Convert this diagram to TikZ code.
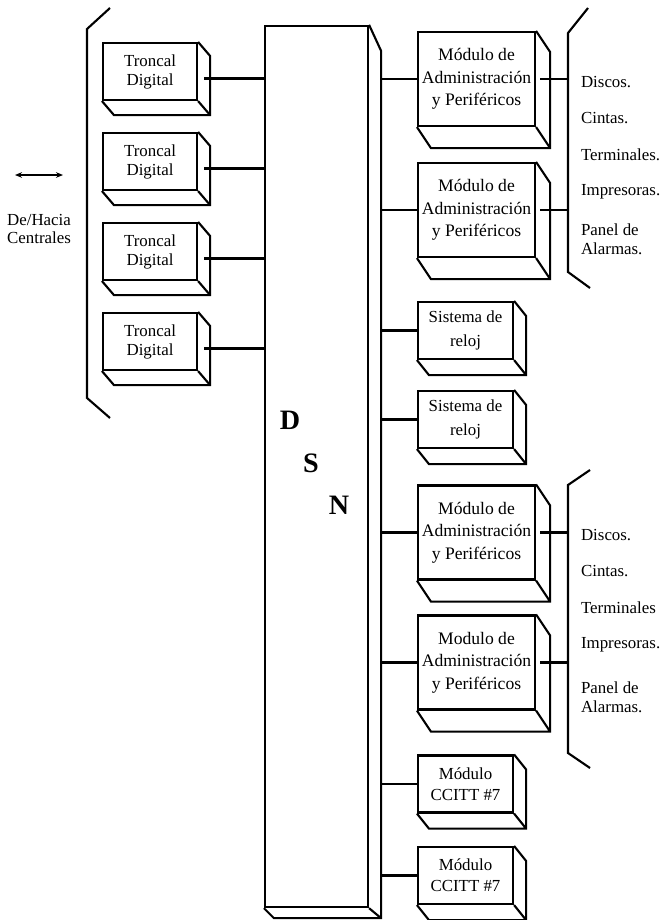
\documentclass[tikz,border=0pt]{standalone}
\usepackage{fontspec}
\setmainfont{Liberation Serif}
\usetikzlibrary{arrows.meta,positioning,calc}

\begin{document}
\begin{tikzpicture}[x=0.025cm,y=-0.025cm,line width=1.5pt,
font=\fontsize{12}{15}\selectfont]

\tikzstyle{caja}=[rectangle, draw, line width=1.5pt, inner sep=0pt, align=center,
minimum width=2.375cm, minimum height=1.425cm]
\tikzstyle{troncal}=[caja, minimum width=2.35cm, font=\fontsize{12}{13.5}\selectfont]
\tikzstyle{modulo}=[caja, minimum width=2.925cm, minimum height=2.35cm,
font=\fontsize{12.5}{16}\selectfont]
\tikzstyle{lista}=[anchor=west, inner sep=0pt, align=left,
font=\fontsize{12}{13.5}\selectfont]
\tikzstyle{letra}=[inner sep=0pt, font=\fontsize{20}{22}\selectfont\bfseries]
\tikzstyle{enlace}=[line width=1.5pt]

\useasboundingbox (0,0) rectangle (663,920);

%troncales
\node[troncal]
(t1) at (150,71.5)
{Troncal\\Digital};

\node[troncal]
(t2) at (150,161.5)
{Troncal\\Digital};

\node[troncal]
(t3) at (150,251.5)
{Troncal\\Digital};

\node[troncal]
(t4) at (150,341.5)
{Troncal\\Digital};

%DSN
\node[caja, minimum width=2.575cm, minimum height=22.025cm]
(dsn) at (316.5,466.5)
{};

\node[letra] (ld) at (290,420) {D};
\node[letra] (ls) at (311,463) {S};
\node[letra] (ln) at (339,505) {N};

%modulos
\node[modulo]
(m1) at (476.5,79)
{M\'odulo de\\Administraci\'on\\y Perif\'ericos};

\node[modulo]
(m2) at (476.5,210)
{M\'odulo de\\Administraci\'on\\y Perif\'ericos};

\node[caja, font=\fontsize{12}{17}\selectfont]
(s1) at (465.5,330.5)
{Sistema de\\reloj};

\node[caja, font=\fontsize{12}{17}\selectfont]
(s2) at (465.5,419.5)
{Sistema de\\reloj};

\node[modulo]
(m3) at (476.5,532.5)
{M\'odulo de\\Administraci\'on\\y Perif\'ericos};

\node[modulo]
(m4) at (476.5,662.5)
{Modulo de\\Administraci\'on\\y Perif\'ericos};

\node[caja]
(c1) at (465.5,784)
{M\'odulo\\CCITT \#7};

\node[caja]
(c2) at (465.5,875.5)
{M\'odulo\\CCITT \#7};

%caras en 3D
\foreach \n/\dx/\dy in {t1/12/14, t2/12/14, t3/12/14, t4/12/14,
  m1/14/21, m2/14/21, m3/14/21, m4/14/21,
  s1/12/15, s2/12/15, c1/12/15, c2/12/15}
  \draw (\n.north east) -- ++(\dx,\dy) -- ($(\n.south east)+(\dx,\dy)$)
    -- ($(\n.south west)+(\dx,\dy)$) -- (\n.south west)
    (\n.south east) -- ++(\dx,\dy);

\draw (dsn.north east) -- ++(12,26) -- ($(dsn.south east)+(12,10)$)
  -- ($(dsn.south west)+(10,10)$) -- (dsn.south west)
  (dsn.south east) -- ++(12,10);
\coordinate (lado) at ($(dsn.east)+(12,0)$);

%llaves
\coordinate (ll0) at (87,29);
\coordinate (ll1) at (568,33);
\coordinate (ll2) at (568,485);
\draw (110,8) -- (ll0) -- (87,398) -- (110,418);
\draw (588,8) -- (ll1) -- (568,272) -- (590,288);
\draw (590,470) -- (ll2) -- (568,753) -- (590,768);

%enlaces
\foreach \i in {1,...,4} {
  \coordinate (e\i) at ($(t\i.east)+(6,7)$);
  \path (e\i) edge[enlace] (e\i -| dsn.west);
}

\foreach \n in {m1,m2,s1,s2,m3,m4,c1,c2}
  \path (\n.west) edge[enlace] (\n.west -| lado);

\foreach \n/\l in {m1/ll1, m2/ll1, m3/ll2, m4/ll2} {
  \coordinate (p\n) at ($(\n.east)+(4,0)$);
  \path (p\n) edge[enlace] (p\n -| \l);
}

%De/Hacia
\coordinate (fl1) at (15,175);
\coordinate (fl2) at (63,175);
\draw[{Stealth[length=5pt,width=4pt]}-{Stealth[length=5pt,width=4pt]}, line width=1.3pt]
(fl1) -- (fl2);

\node[align=center, inner sep=0pt, font=\fontsize{12}{13.5}\selectfont]
(dh) at (39,229)
{De/Hacia\\Centrales};

%perifericos
\node[lista] (a1) at (580,82) {Discos.};
\node[lista] (a2) at (580,118) {Cintas.};
\node[lista] (a3) at (580,155) {Terminales.};
\node[lista] (a4) at (580,192) {Impresoras.};
\node[lista] (a5) at (580,239) {Panel de\\Alarmas.};

\node[lista] (b1) at (580,535) {Discos.};
\node[lista] (b2) at (580,571) {Cintas.};
\node[lista] (b3) at (580,608) {Terminales};
\node[lista] (b4) at (580,645) {Impresoras.};
\node[lista] (b5) at (580,697) {Panel de\\Alarmas.};

\end{tikzpicture}
\end{document}
